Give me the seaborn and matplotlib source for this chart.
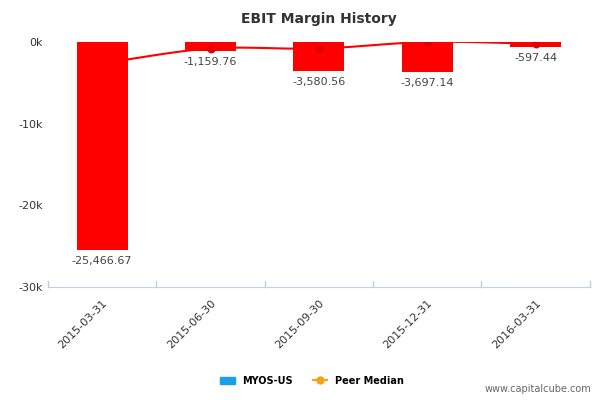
import matplotlib
matplotlib.use("Agg")
import matplotlib.pyplot as plt
import seaborn as sns
import numpy as np
import pandas as pd
from matplotlib.lines import Line2D
from matplotlib.patches import Patch

dates = ["2015-03-31", "2015-06-30", "2015-09-30", "2015-12-31", "2016-03-31"]
company = [-25466.67, -1159.76, -3580.56, -3697.14, -597.44]
peer = [-2600, -800, -800, 0, -200]
labels = ["-25,466.67", "-1,159.76", "-3,580.56", "-3,697.14", "-597.44"]

df = pd.DataFrame({"date": dates, "value": company})

fig = plt.figure(figsize=(6, 4), dpi=100)
ax = fig.add_axes([0.08, 0.283, 0.903, 0.612])
sns.barplot(data=df, x="date", y="value", color="#ff0000", width=0.47, ax=ax, saturation=1)

# smooth peer line (Catmull-Rom)
x = np.arange(len(peer), dtype=float)
y = np.array(peer, dtype=float)
xs, ys = [], []
P = np.concatenate([[2*y[0]-y[1]], y, [2*y[-1]-y[-2]]])
for i in range(len(y)-1):
    t = np.linspace(0, 1, 30)
    p0, p1, p2, p3 = P[i], P[i+1], P[i+2], P[i+3]
    yy = 0.5*((2*p1) + (-p0+p2)*t + (2*p0-5*p1+4*p2-p3)*t**2 + (-p0+3*p1-3*p2+p3)*t**3)
    xs.extend(x[i]+t); ys.extend(yy)
ax.plot(xs, ys, color="#ff0000", lw=1.5, zorder=1)
ax.scatter(x[1:], y[1:], color="#dd0000", s=22, zorder=3)
for b in ax.patches:
    b.set_zorder(2)

for i, (v, l) in enumerate(zip(company, labels)):
    ax.text(i, v - 700, l, ha="center", va="top", fontsize=8, color="#444444")

ax.set_ylim(-30000, 0)
ax.set_xlim(-0.5, 4.5)
ax.set_yticks([0, -10000, -20000, -30000])
ax.set_yticklabels(["0k", "-10k", "-20k", "-30k"], fontsize=8, color="#333333")
ax.set_xticks(range(5))
ax.set_xticklabels(dates, rotation=45, ha="right", rotation_mode="anchor", fontsize=8, color="#333333")
ax.tick_params(axis="y", length=0)
ax.tick_params(axis="x", length=0, pad=8)
for xv in np.arange(-0.5, 5, 1):
    ax.plot([xv, xv], [-30000, -29300], color="#c0d0e0", lw=1, clip_on=False)
ax.set_xlabel(""); ax.set_ylabel("")
for s in ["top", "right", "left"]:
    ax.spines[s].set_visible(False)
ax.spines["bottom"].set_color("#c0d0e0")
ax.set_title("EBIT Margin History", fontsize=10, fontweight="bold", color="#333333", pad=14)

handles = [Patch(color="#1aa0e8", label="MYOS-US"),
           Line2D([0], [0], color="#f7a21b", marker="o", markersize=5, label="Peer Median")]
fig.legend(handles=handles, loc="center", bbox_to_anchor=(0.52, 0.048), ncol=2, frameon=False,
           prop={"size": 7, "weight": "bold"}, handlelength=1.5, columnspacing=2)
fig.text(0.985, 0.02, "www.capitalcube.com", ha="right", fontsize=7, color="#666666")
fig.savefig("out.png", dpi=100)
